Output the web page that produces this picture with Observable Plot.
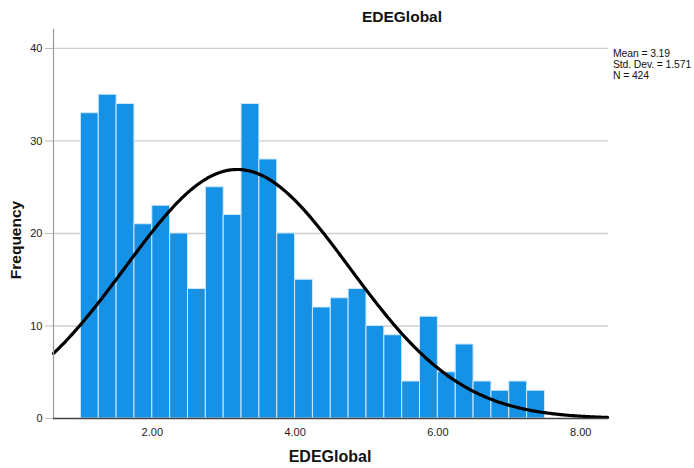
<!DOCTYPE html>
<html><head><meta charset="utf-8">
<script src="https://cdn.jsdelivr.net/npm/d3@7"></script>
<script src="https://cdn.jsdelivr.net/npm/@observablehq/plot@0.6"></script>
<style>
body{margin:0;background:#fff;font-family:"Liberation Sans",Arial,sans-serif;}
#wrap{position:relative;width:694px;height:468px;overflow:hidden;}
.t{position:absolute;color:#111;white-space:nowrap;}
</style></head>
<body><div id="wrap"></div>
<script>
// Histogram data (bin width 0.25, from 1.00 to 7.50)
const binStart = 1.0;
const binWidth = 0.25;
const counts = [33,35,34,21,23,20,14,25,22,34,28,20,15,12,13,14,10,9,4,11,5,8,4,3,4,3];
const yTicks = [0,10,20,30,40];
const xTicks = [2,4,6,8];
const stats = {mean:3.19, sd:1.571, n:424};
const title = "EDEGlobal";
const xLabel = "EDEGlobal";
const yLabel = "Frequency";

const xDomain = [0.616, 8.39];
const yDomain = [0, 42.05];

const bins = counts.map((c,i)=>({x1: binStart+i*binWidth, x2: binStart+(i+1)*binWidth, y: c}));
// normal curve from the displayed Mean / Std. Dev. / N
const curve = d3.range(xDomain[0], xDomain[1]+0.001, 0.02).map(x=>({
  x, y: stats.n*binWidth/(stats.sd*Math.sqrt(2*Math.PI))*Math.exp(-0.5*((x-stats.mean)/stats.sd)**2)
}));

const plot = Plot.plot({
  width:694, height:468,
  marginLeft:53, marginRight:86, marginTop:29, marginBottom:50,
  style:{fontFamily:"'Liberation Sans', Arial, sans-serif", fontSize:"11px", color:"#222", background:"#fff"},
  x:{domain:xDomain, ticks:xTicks, tickFormat:d3.format(".2f"), tickSize:0, tickPadding:10, label:null},
  y:{domain:yDomain, ticks:yTicks, tickFormat:d3.format("d"), tickSize:8, tickPadding:3, label:null},
  marks:[
    Plot.ruleY(yTicks.filter(d=>d>0), {stroke:"#cfcfcf", strokeWidth:1.3}),
    Plot.rectY(bins, {x1:"x1", x2:"x2", y:"y", fill:"#1591e6", stroke:"#cfe8fa", strokeWidth:1}),
    Plot.line(curve, {x:"x", y:"y", stroke:"#000", strokeWidth:3.2}),
    Plot.axisY({ticks:yTicks, tickFormat:d3.format("d"), tickSize:8, stroke:"#bbb"}),
    Plot.ruleX([xDomain[0]], {stroke:"#999", strokeWidth:1.2}),
    Plot.ruleY([0], {stroke:"#444", strokeWidth:1.3})
  ]
});
const wrap = document.getElementById("wrap");
wrap.appendChild(plot);
function addText(txt, css){const d=document.createElement("div");d.className="t";d.textContent=txt;Object.assign(d.style,css);wrap.appendChild(d);}
addText(title,{left:"402px",top:"8px",transform:"translateX(-50%)",fontWeight:"bold",fontSize:"15.5px"});
addText(xLabel,{left:"330px",top:"448px",transform:"translateX(-50%)",fontWeight:"bold",fontSize:"16px"});
addText(yLabel,{left:"16px",top:"240px",transform:"translate(-50%,-50%) rotate(-90deg)",fontWeight:"bold",fontSize:"15.5px"});
const legendCss = {left:"613px",fontSize:"10.4px",lineHeight:"11px",letterSpacing:"-0.1px"};
addText(`Mean = ${stats.mean.toFixed(2)}`,Object.assign({top:"48px"},legendCss));
addText(`Std. Dev. = ${stats.sd.toFixed(3)}`,Object.assign({top:"59px"},legendCss));
addText(`N = ${stats.n}`,Object.assign({top:"70px"},legendCss));
</script></body></html>
